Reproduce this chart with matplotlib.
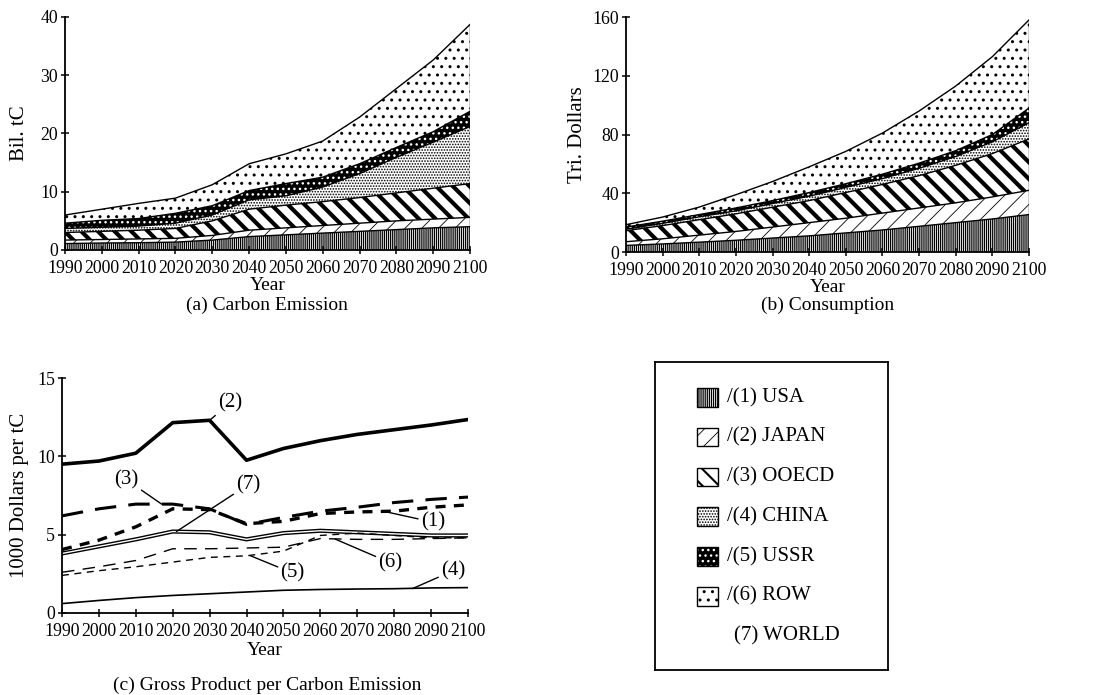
import matplotlib.pyplot as plt
import numpy as np
from matplotlib.patches import Rectangle

plt.rcParams['font.family'] = ['Liberation Serif', 'DejaVu Serif']

# Años de la simulación
anios = np.arange(1990, 2101, 10)

regiones = ['USA', 'JAPAN', 'OOECD', 'CHINA', 'USSR', 'ROW']

# (a) Emisión de carbono por región [Bil. tC]
emis_usa = [1.1, 1.2, 1.25, 1.35, 1.7, 2.3, 2.6, 2.9, 3.2, 3.5, 3.8, 4.0]
emis_japan = [0.6, 0.6, 0.65, 0.65, 0.8, 1.1, 1.2, 1.3, 1.4, 1.5, 1.5, 1.6]
emis_ooecd = [1.3, 1.4, 1.5, 1.7, 2.5, 3.6, 3.9, 4.1, 4.4, 4.8, 5.3, 5.8]
emis_china = [0.7, 0.7, 0.7, 0.9, 1.0, 1.6, 1.6, 2.5, 4.1, 6.1, 7.9, 9.8]
emis_ussr = [0.9, 1.2, 1.3, 1.7, 1.6, 1.6, 2.1, 1.7, 1.7, 1.7, 1.8, 2.6]
emis_row = [1.4, 1.9, 2.6, 2.6, 3.6, 4.6, 5.1, 6.2, 8.0, 10.1, 12.3, 14.9]

# (b) Consumo por región [Tri. Dollars]
cons_usa = [4.5, 5.5, 6.7, 8.0, 9.5, 11.0, 13.0, 15.0, 17.5, 20.0, 22.5, 25.5]
cons_japan = [2.5, 3.5, 4.8, 6.0, 7.5, 9.0, 10.0, 11.5, 12.5, 13.5, 15.0, 16.5]
cons_ooecd = [7.5, 9.0, 10.5, 12.0, 13.5, 15.0, 17.5, 19.5, 22.0, 25.5, 29.5, 35.0]
cons_china = [1.0, 1.5, 2.0, 2.0, 2.5, 3.0, 3.5, 4.0, 5.0, 6.0, 8.0, 11.0]
cons_ussr = [1.5, 1.5, 1.5, 2.0, 2.0, 2.5, 2.5, 3.0, 3.5, 4.0, 5.0, 10.0]
cons_row = [1.6, 2.8, 5.1, 9.0, 13.0, 17.5, 22.0, 28.0, 35.5, 44.0, 53.0, 60.0]

# (c) Producto bruto por emisión de carbono [1000 Dollars per tC]
gp_usa = [4.05, 4.65, 5.5, 6.65, 6.6, 5.7, 5.85, 6.35, 6.45, 6.5, 6.75, 6.9]
gp_japan = [9.5, 9.7, 10.2, 12.15, 12.3, 9.75, 10.5, 11.0, 11.4, 11.7, 12.0, 12.35]
gp_ooecd = [6.2, 6.65, 6.95, 6.95, 6.65, 5.65, 6.1, 6.5, 6.75, 7.05, 7.25, 7.4]
gp_china = [0.6, 0.8, 0.98, 1.12, 1.23, 1.34, 1.45, 1.5, 1.53, 1.55, 1.6, 1.62]
gp_ussr = [2.4, 2.7, 2.95, 3.25, 3.55, 3.65, 3.95, 4.95, 5.1, 4.95, 4.8, 4.8]
gp_row = [2.6, 2.95, 3.35, 4.1, 4.1, 4.15, 4.2, 4.75, 4.7, 4.7, 4.75, 4.8]
gp_world = [3.8, 4.25, 4.7, 5.2, 5.15, 4.7, 5.1, 5.25, 5.15, 5.05, 4.95, 4.95]

# Tramas de cada región: (cara, color de trama, trama, grosor)
tramas = [
    ('white', 'black', '||||||||', 0.9),
    ('white', 'black', '//', 0.6),
    ('white', 'black', '\\\\', 3.0),
    ('white', 'black', '......', 0.8),
    ('black', 'white', '...', 1.0),
    ('white', 'black', '..', 1.0),
]


def estilo_ejes(ax, yticks, ylim):
    ax.set_xlim(1990, 2100)
    ax.set_ylim(*ylim)
    ax.set_xticks(anios)
    ax.set_yticks(yticks)
    ax.spines['top'].set_visible(False)
    ax.spines['right'].set_visible(False)
    ax.spines['left'].set_linewidth(1.3)
    ax.spines['bottom'].set_linewidth(1.3)
    ax.tick_params(direction='inout', length=6, width=1.1, labelsize=12.8)
    ax.tick_params(axis='x', pad=4)
    ax.tick_params(axis='y', pad=2)
    ax.set_facecolor('none')


def areas_apiladas(ax, series):
    base = np.zeros(len(anios))
    for serie, (cara, color, trama, lw) in zip(series, tramas):
        tope = base + np.asarray(serie, dtype=float)
        with plt.rc_context({'hatch.linewidth': lw, 'hatch.color': color}):
            ax.fill_between(anios, base, tope, facecolor=cara, edgecolor=color,
                            hatch=trama, linewidth=0)
        ax.plot(anios, tope, color='black', linewidth=1.0)
        base = tope
    ax.plot([anios[-1], anios[-1]], [0, base[-1]], color='black', linewidth=1.0)


fig = plt.figure(figsize=(11.05, 6.95), dpi=100)

# (a) Emisión de carbono
ax_a = fig.add_axes([0.0588, 0.6403, 0.3665, 0.3353])
areas_apiladas(ax_a, [emis_usa, emis_japan, emis_ooecd, emis_china, emis_ussr, emis_row])
estilo_ejes(ax_a, [0, 10, 20, 30, 40], (0, 40))
ax_a.set_ylabel('Bil. tC', fontsize=15, labelpad=8)
ax_a.set_xlabel('Year', fontsize=14, labelpad=0)
fig.text(0.2420, 0.561, '(a) Carbon Emission', ha='center', va='center', fontsize=14)

# (b) Consumo
ax_b = fig.add_axes([0.5665, 0.6374, 0.3647, 0.3381])
areas_apiladas(ax_b, [cons_usa, cons_japan, cons_ooecd, cons_china, cons_ussr, cons_row])
estilo_ejes(ax_b, [0, 40, 80, 120, 160], (0, 160))
ax_b.set_ylabel('Tri. Dollars', fontsize=15, labelpad=4)
ax_b.set_xlabel('Year', fontsize=14, labelpad=0)
fig.text(0.7489, 0.561, '(b) Consumption', ha='center', va='center', fontsize=14)

# (c) Producto bruto por emisión de carbono
ax_c = fig.add_axes([0.0561, 0.1180, 0.3674, 0.3381])
ax_c.plot(anios, gp_japan, color='black', linewidth=2.6)
ax_c.plot(anios, gp_ooecd, color='black', linewidth=2.2, dashes=(7, 4))
ax_c.plot(anios, gp_usa, color='black', linewidth=2.4, dashes=(3, 2.5))
ax_c.plot(anios, gp_world, color='black', linewidth=3.0)
ax_c.plot(anios, gp_world, color='white', linewidth=1.0)
ax_c.plot(anios, gp_row, color='black', linewidth=1.0, dashes=(9, 6))
ax_c.plot(anios, gp_ussr, color='black', linewidth=1.0, dashes=(5, 4))
ax_c.plot(anios, gp_china, color='black', linewidth=1.2)
estilo_ejes(ax_c, [0, 5, 10, 15], (0, 15))
ax_c.set_ylabel('1000 Dollars per tC', fontsize=15, labelpad=6)
ax_c.set_xlabel('Year', fontsize=14, labelpad=2)
fig.text(0.2420, 0.0144, '(c) Gross Product per Carbon Emission', ha='center',
         va='center', fontsize=14)

# Etiquetas de cada curva con su flecha
flecha = dict(arrowstyle='-', color='black', linewidth=1.0, shrinkA=0, shrinkB=0)
etiquetas = [
    ('(2)', 2030, gp_japan[4], 2035.5, 13.4),
    ('(3)', 2017, 6.95, 2007.5, 8.5),
    ('(7)', 2021, gp_world[3], 2040.5, 8.2),
    ('(1)', 2077, 6.5, 2090.5, 5.8),
    ('(6)', 2064, 4.72, 2079.0, 3.2),
    ('(5)', 2041, 3.66, 2052.5, 2.55),
    ('(4)', 2085, 1.56, 2096.0, 2.7),
]
for texto, xp, yp, xt, yt in etiquetas:
    ax_c.annotate(texto, xy=(xp, yp), xytext=(xt, yt), ha='center', va='center',
                  fontsize=15, arrowprops=flecha)

# Leyenda en un recuadro aparte
ax_l = fig.add_axes([0.5928, 0.0360, 0.2109, 0.4432])
ax_l.set_xlim(0, 1)
ax_l.set_ylim(0, 1)
ax_l.set_xticks([])
ax_l.set_yticks([])
for lado in ax_l.spines.values():
    lado.set_linewidth(1.3)
filas = np.linspace(0.885, 0.11, 7)
for i, (nombre, (cara, color, trama, lw)) in enumerate(zip(regiones, tramas)):
    with plt.rc_context({'hatch.linewidth': min(lw, 1.5), 'hatch.color': color}):
        ax_l.add_patch(Rectangle((0.18, filas[i] - 0.03), 0.09, 0.06, facecolor=cara,
                                 edgecolor=color, hatch=trama, linewidth=0))
    ax_l.add_patch(Rectangle((0.18, filas[i] - 0.03), 0.09, 0.06, facecolor='none',
                             edgecolor='black', linewidth=1.0))
    ax_l.text(0.31, filas[i], f'/({i + 1}) {nombre}', va='center', ha='left', fontsize=15)
ax_l.text(0.34, filas[6], '(7) WORLD', va='center', ha='left', fontsize=15)

fig.savefig('out.png', dpi=100)
